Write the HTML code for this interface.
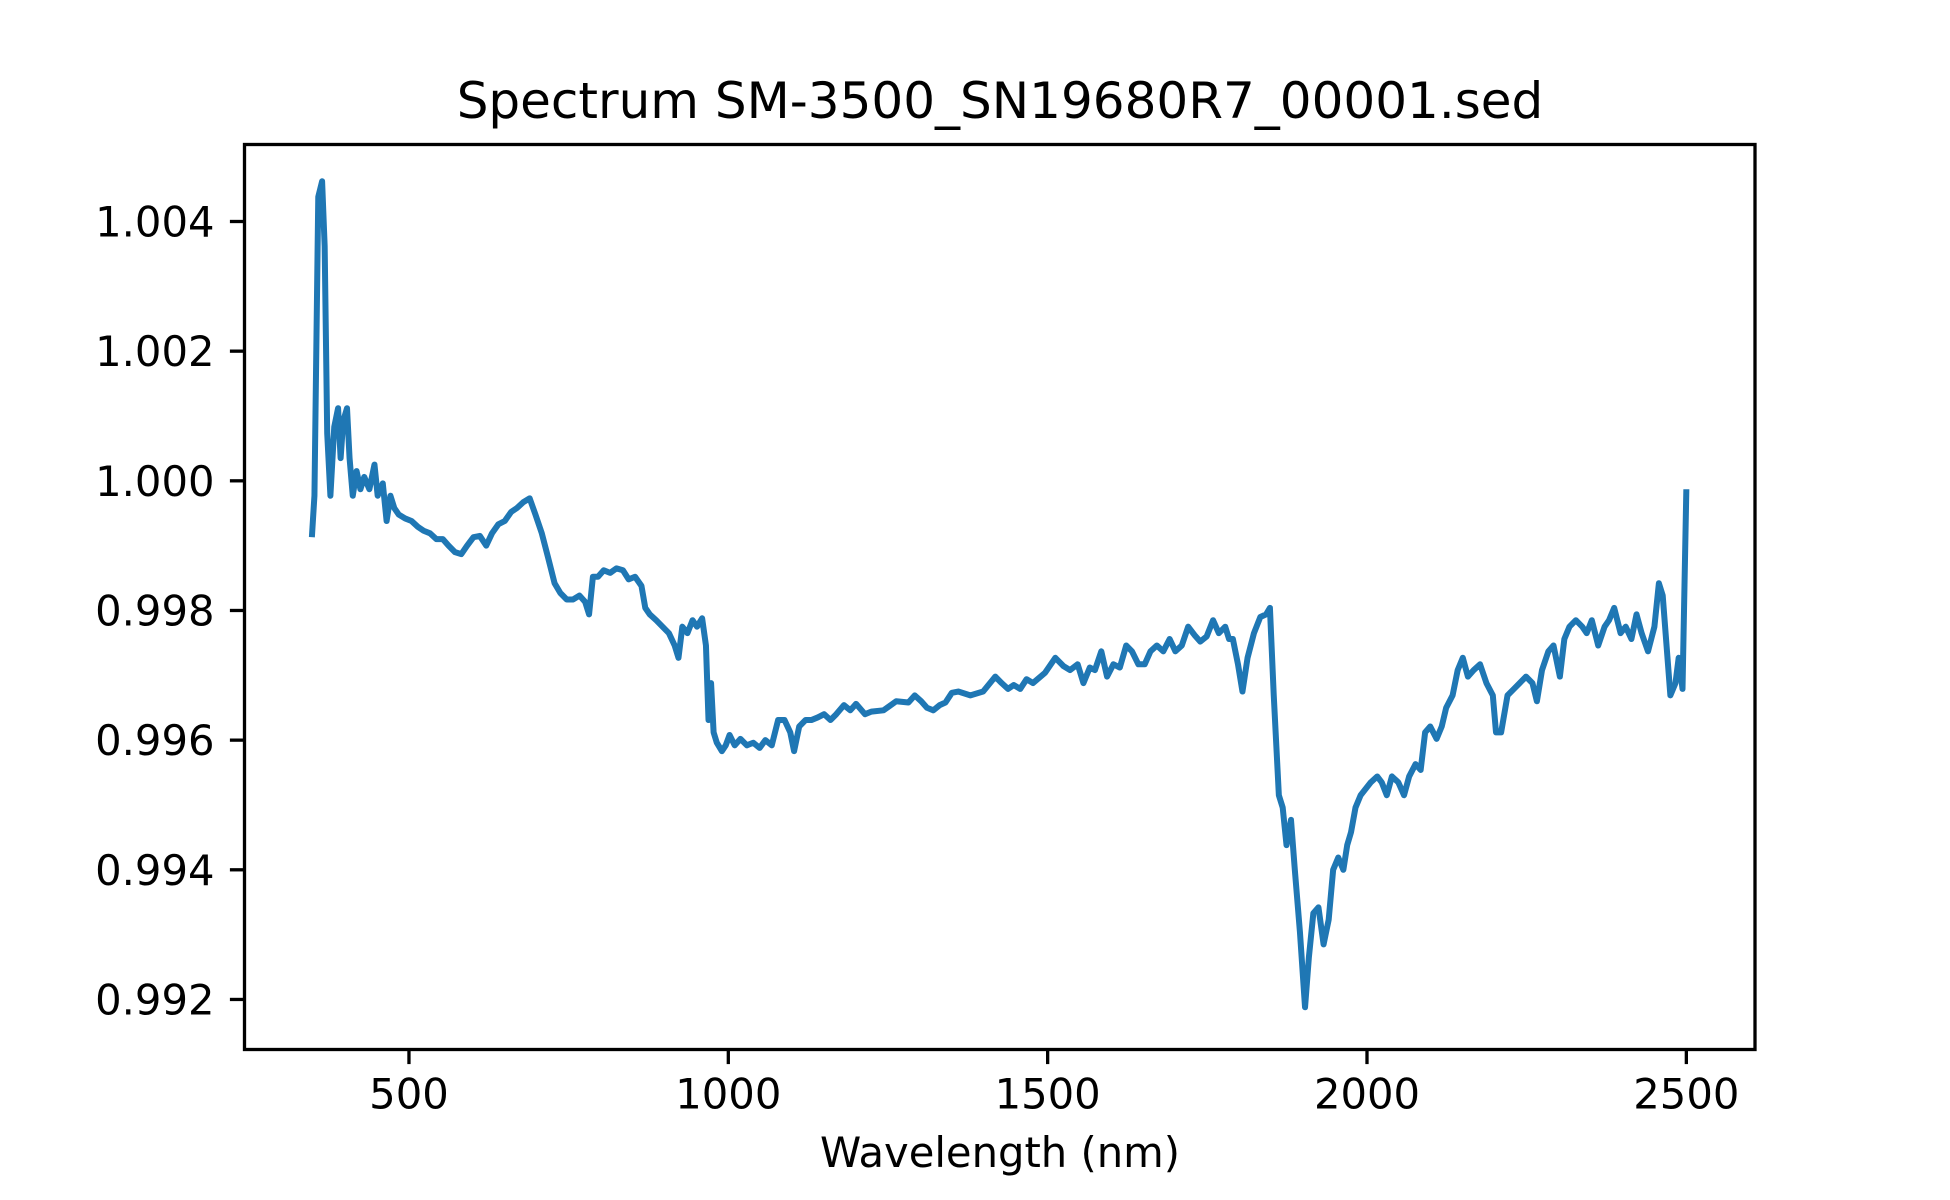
<!DOCTYPE html>
<html><head><meta charset="utf-8"><style>
html,body{margin:0;padding:0;background:#fff}
svg{display:block}
text{font-family:"DejaVu Sans","Liberation Sans",sans-serif;fill:#000}
</style></head><body>
<svg id="chart" width="1950" height="1200" viewBox="0 0 1950 1200" xmlns="http://www.w3.org/2000/svg">
<rect x="0" y="0" width="1950" height="1200" fill="#fff"/>
<text x="1000" y="118" font-size="50" text-anchor="middle">Spectrum SM-3500_SN19680R7_00001.sed</text>
<text x="1000" y="1167" font-size="41.7" text-anchor="middle">Wavelength (nm)</text>
<g id="ticks"></g>
<g id="series"></g>
<rect x="244.5" y="144.5" width="1510.5" height="905" fill="none" stroke="#000" stroke-width="3.3"/>
</svg>
<script>
const wavelengths = [348,352,358,364,368,372,377,383,389,393,397,403,407,412,418,424,430,438,446,451,459,465,471,477,484,494,504,514,523,533,543,553,562,572,582,591,601,611,621,630,640,650,660,669,679,689,698,708,718,728,737,747,757,767,776,782,788,796,805,815,825,835,844,854,864,870,877,887,897,907,916,922,928,936,944,951,959,965,969,973,977,982,990,996,1002,1010,1019,1029,1039,1049,1058,1068,1078,1088,1097,1103,1111,1121,1130,1140,1150,1160,1169,1181,1191,1200,1214,1224,1243,1263,1282,1292,1302,1311,1321,1331,1340,1350,1360,1379,1399,1418,1428,1438,1447,1457,1467,1477,1496,1512,1525,1535,1547,1556,1566,1574,1584,1593,1603,1613,1623,1632,1642,1652,1661,1671,1681,1691,1700,1710,1720,1730,1739,1749,1759,1768,1778,1784,1790,1798,1805,1813,1823,1833,1842,1848,1854,1862,1868,1874,1881,1887,1895,1903,1909,1916,1924,1932,1940,1947,1955,1963,1969,1975,1982,1990,1998,2006,2016,2023,2031,2039,2049,2058,2066,2076,2084,2091,2099,2109,2117,2124,2134,2142,2150,2158,2167,2177,2187,2197,2202,2210,2220,2230,2239,2249,2259,2266,2274,2284,2292,2302,2309,2317,2327,2337,2344,2352,2362,2372,2379,2387,2397,2405,2414,2422,2430,2440,2450,2457,2463,2469,2475,2483,2488,2494,2500];
const reflectance = [0.99913,0.99977,1.00438,1.00462,1.00362,1.00073,0.99977,1.00083,1.00112,1.00035,1.00092,1.00112,1.00035,0.99977,1.00015,0.99987,1.00006,0.99987,1.00025,0.99977,0.99996,0.99938,0.99977,0.99958,0.99948,0.99942,0.99938,0.99929,0.99923,0.99919,0.9991,0.9991,0.999,0.9989,0.99887,0.999,0.99913,0.99915,0.999,0.99919,0.99933,0.99938,0.99952,0.99958,0.99967,0.99973,0.99948,0.99919,0.99881,0.99842,0.99827,0.99817,0.99817,0.99823,0.99813,0.99794,0.99852,0.99852,0.99862,0.99858,0.99865,0.99862,0.99848,0.99852,0.99838,0.99804,0.99794,0.99785,0.99775,0.99765,0.99746,0.99727,0.99775,0.99765,0.99785,0.99775,0.99788,0.99746,0.99631,0.99688,0.99612,0.99596,0.99583,0.99592,0.99608,0.99592,0.99602,0.99592,0.99596,0.99588,0.996,0.99592,0.99631,0.99631,0.99612,0.99583,0.99621,0.99631,0.99631,0.99635,0.9964,0.99631,0.9964,0.99654,0.99646,0.99656,0.9964,0.99644,0.99646,0.9966,0.99658,0.99669,0.9966,0.9965,0.99646,0.99654,0.99658,0.99673,0.99675,0.99669,0.99675,0.99698,0.99688,0.99679,0.99685,0.99679,0.99694,0.99688,0.99704,0.99727,0.99714,0.99708,0.99717,0.99688,0.99712,0.99708,0.99737,0.99698,0.99717,0.99712,0.99746,0.99737,0.99717,0.99717,0.99737,0.99746,0.99737,0.99756,0.99737,0.99746,0.99775,0.99762,0.99752,0.9976,0.99785,0.99765,0.99775,0.99756,0.99756,0.99717,0.99675,0.99727,0.99765,0.9979,0.99794,0.99804,0.99669,0.99515,0.99496,0.99438,0.99477,0.994,0.99304,0.99188,0.99265,0.99333,0.99342,0.99285,0.99323,0.994,0.99419,0.994,0.99438,0.99458,0.99496,0.99515,0.99525,0.99535,0.99544,0.99535,0.99515,0.99544,0.99535,0.99515,0.99544,0.99563,0.99554,0.99612,0.99621,0.99602,0.99621,0.9965,0.99669,0.99708,0.99727,0.99698,0.99708,0.99717,0.99688,0.99669,0.99612,0.99612,0.99669,0.99679,0.99688,0.99698,0.99688,0.9966,0.99708,0.99737,0.99746,0.99698,0.99756,0.99775,0.99785,0.99775,0.99765,0.99785,0.99746,0.99775,0.99785,0.99804,0.99765,0.99775,0.99756,0.99794,0.99765,0.99737,0.99775,0.99842,0.99823,0.99746,0.99669,0.99688,0.99727,0.99679,0.99987];
const xTicks = [500,1000,1500,2000,2500];
const xTickLabels = ["500","1000","1500","2000","2500"];
const yTicks = [0.992,0.994,0.996,0.998,1.000,1.002,1.004];
const yTickLabels = ["0.992","0.994","0.996","0.998","1.000","1.002","1.004"];

const NS = "http://www.w3.org/2000/svg";
const X0 = 244.5, X1 = 1755, Y0 = 144.5, Y1 = 1049.5;
const xMin = 242.5, xMax = 2607.5;
const PXU = 64830;
const yMax = 1.004 + (221.5 - Y0) / PXU, yMin = 1.004 - (Y1 - 221.5) / PXU;
function xScale(v){ return X0 + (v - xMin) / (xMax - xMin) * (X1 - X0); }
function yScale(v){ return Y0 + (yMax - v) / (yMax - yMin) * (Y1 - Y0); }

const ticks = document.getElementById('ticks');
xTicks.forEach((t, i) => {
  const x = xScale(t);
  const l = document.createElementNS(NS, 'line');
  l.setAttribute('x1', x); l.setAttribute('x2', x);
  l.setAttribute('y1', Y1); l.setAttribute('y2', Y1 + 14.6);
  l.setAttribute('stroke', '#000'); l.setAttribute('stroke-width', '3.3');
  
  
  ticks.appendChild(l);
  const tx = document.createElementNS(NS, 'text');
  tx.setAttribute('x', x); tx.setAttribute('y', Y1 + 59);
  tx.setAttribute('font-size', '41.7'); tx.setAttribute('text-anchor', 'middle');
  tx.textContent = xTickLabels[i];
  
  
  ticks.appendChild(tx);
});
yTicks.forEach((t, i) => {
  const y = yScale(t);
  const l = document.createElementNS(NS, 'line');
  l.setAttribute('x1', X0 - 14.6); l.setAttribute('x2', X0);
  l.setAttribute('y1', y); l.setAttribute('y2', y);
  l.setAttribute('stroke', '#000'); l.setAttribute('stroke-width', '3.3');
  
  
  ticks.appendChild(l);
  const tx = document.createElementNS(NS, 'text');
  tx.setAttribute('x', X0 - 30); tx.setAttribute('y', y + 15);
  tx.setAttribute('font-size', '41.7'); tx.setAttribute('text-anchor', 'end');
  tx.textContent = yTickLabels[i];
  
  
  ticks.appendChild(tx);
});

const series = document.getElementById('series');
const p = document.createElementNS(NS, 'polyline');
p.setAttribute('points', wavelengths.map((w, i) => xScale(w).toFixed(2) + ',' + yScale(reflectance[i]).toFixed(2)).join(' '));
p.setAttribute('fill', 'none');
p.setAttribute('stroke', '#1f77b4');
p.setAttribute('stroke-width', '6');
p.setAttribute('stroke-linejoin', 'round');


series.appendChild(p);
</script>
</body></html>
